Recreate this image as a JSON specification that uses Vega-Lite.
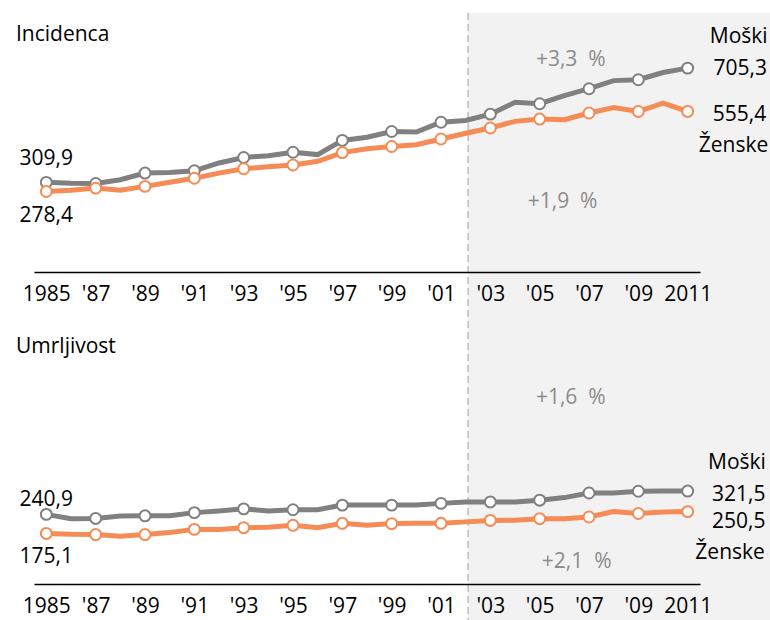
{
  "$schema": "https://vega.github.io/schema/vega-lite/v6.json",
  "background": "white",
  "padding": {"left": 15, "top": 12, "right": 0, "bottom": 0},
  "width": 666,
  "height": 571,
  "config": {"view": {"stroke": null}, "font": "Open Sans"},
  "resolve": {"scale": {"x": "independent", "y": "independent"}, "axis": {"x": "independent", "y": "independent"}},
  "layer": [
    {
      "layer": [
        {
          "data": {"values": [{"start": 2002.1, "end": 2014.5, "top": 896, "low": -1210}]},
          "mark": {"type": "rect", "color": "#F2F2F2", "clip": false},
          "encoding": {
            "x": {"field": "start", "type": "quantitative", "scale": {"domain": [1984.5, 2011.5], "nice": false, "zero": false}},
            "x2": {"field": "end"},
            "y": {"field": "top", "type": "quantitative", "scale": {"domain": [-1080, 896], "nice": false, "zero": false}, "axis": null},
            "y2": {"field": "low"}
          }
        },
        {
          "data": {"values": [{"start": 2002.1, "top": 896, "low": -1210}]},
          "mark": {"type": "rule", "color": "#BDBDBD", "strokeWidth": 1.5, "strokeDash": [7, 4]},
          "encoding": {
            "x": {"field": "start", "type": "quantitative"},
            "y": {"field": "top", "type": "quantitative"},
            "y2": {"field": "low"}
          }
        },
        {
          "data": {"values": [
            {"year": 1985, "sex": "Moški", "value": 309.9}, {"year": 1986, "sex": "Moški", "value": 307}, {"year": 1987, "sex": "Moški", "value": 306},
            {"year": 1988, "sex": "Moški", "value": 319}, {"year": 1989, "sex": "Moški", "value": 342}, {"year": 1990, "sex": "Moški", "value": 344},
            {"year": 1991, "sex": "Moški", "value": 350}, {"year": 1992, "sex": "Moški", "value": 377}, {"year": 1993, "sex": "Moški", "value": 396},
            {"year": 1994, "sex": "Moški", "value": 402}, {"year": 1995, "sex": "Moški", "value": 414}, {"year": 1996, "sex": "Moški", "value": 406},
            {"year": 1997, "sex": "Moški", "value": 455}, {"year": 1998, "sex": "Moški", "value": 466}, {"year": 1999, "sex": "Moški", "value": 486},
            {"year": 2000, "sex": "Moški", "value": 484}, {"year": 2001, "sex": "Moški", "value": 518}, {"year": 2002, "sex": "Moški", "value": 524},
            {"year": 2003, "sex": "Moški", "value": 546}, {"year": 2004, "sex": "Moški", "value": 587}, {"year": 2005, "sex": "Moški", "value": 582},
            {"year": 2006, "sex": "Moški", "value": 610}, {"year": 2007, "sex": "Moški", "value": 634}, {"year": 2008, "sex": "Moški", "value": 662},
            {"year": 2009, "sex": "Moški", "value": 665}, {"year": 2010, "sex": "Moški", "value": 690}, {"year": 2011, "sex": "Moški", "value": 705.3},
            {"year": 1985, "sex": "Ženske", "value": 278.4}, {"year": 1986, "sex": "Ženske", "value": 283}, {"year": 1987, "sex": "Ženske", "value": 290},
            {"year": 1988, "sex": "Ženske", "value": 283}, {"year": 1989, "sex": "Ženske", "value": 296}, {"year": 1990, "sex": "Ženske", "value": 310},
            {"year": 1991, "sex": "Ženske", "value": 324}, {"year": 1992, "sex": "Ženske", "value": 342}, {"year": 1993, "sex": "Ženske", "value": 357},
            {"year": 1994, "sex": "Ženske", "value": 364}, {"year": 1995, "sex": "Ženske", "value": 370}, {"year": 1996, "sex": "Ženske", "value": 383},
            {"year": 1997, "sex": "Ženske", "value": 413}, {"year": 1998, "sex": "Ženske", "value": 426}, {"year": 1999, "sex": "Ženske", "value": 434},
            {"year": 2000, "sex": "Ženske", "value": 440}, {"year": 2001, "sex": "Ženske", "value": 460}, {"year": 2002, "sex": "Ženske", "value": 480},
            {"year": 2003, "sex": "Ženske", "value": 498}, {"year": 2004, "sex": "Ženske", "value": 521}, {"year": 2005, "sex": "Ženske", "value": 529},
            {"year": 2006, "sex": "Ženske", "value": 527}, {"year": 2007, "sex": "Ženske", "value": 550}, {"year": 2008, "sex": "Ženske", "value": 569},
            {"year": 2009, "sex": "Ženske", "value": 555}, {"year": 2010, "sex": "Ženske", "value": 584}, {"year": 2011, "sex": "Ženske", "value": 555.4}
          ]},
          "mark": {"type": "line", "strokeWidth": 5},
          "encoding": {
            "x": {
              "field": "year", "type": "quantitative",
              "scale": {"domain": [1984.5, 2011.5], "nice": false, "zero": false},
              "axis": {
                "orient": "bottom", "offset": -312,
                "values": [1985, 1987, 1989, 1991, 1993, 1995, 1997, 1999, 2001, 2003, 2005, 2007, 2009, 2011],
                "format": "d",
                "labelExpr": "datum.value == 1985 || datum.value == 2011 ? datum.label : \"'\" + slice(datum.label, 2)",
                "title": null, "grid": false, "ticks": false,
                "domainColor": "black", "domainWidth": 1.5,
                "labelFontSize": 21, "labelColor": "black", "labelPadding": 11,
                "labelFlush": false, "labelOverlap": false, "zindex": 1
              }
            },
            "y": {"field": "value", "type": "quantitative"},
            "color": {"field": "sex", "type": "nominal", "scale": {"domain": ["Moški", "Ženske"], "range": ["#808080", "#F58B55"]}, "legend": null}
          }
        },
        {
          "data": {"values": [
            {"year": 1985, "sex": "Moški", "value": 309.9}, {"year": 1987, "sex": "Moški", "value": 306}, {"year": 1989, "sex": "Moški", "value": 342},
            {"year": 1991, "sex": "Moški", "value": 350}, {"year": 1993, "sex": "Moški", "value": 396}, {"year": 1995, "sex": "Moški", "value": 414},
            {"year": 1997, "sex": "Moški", "value": 455}, {"year": 1999, "sex": "Moški", "value": 486}, {"year": 2001, "sex": "Moški", "value": 518},
            {"year": 2003, "sex": "Moški", "value": 546}, {"year": 2005, "sex": "Moški", "value": 582}, {"year": 2007, "sex": "Moški", "value": 634},
            {"year": 2009, "sex": "Moški", "value": 665}, {"year": 2011, "sex": "Moški", "value": 705.3},
            {"year": 1985, "sex": "Ženske", "value": 278.4}, {"year": 1987, "sex": "Ženske", "value": 290}, {"year": 1989, "sex": "Ženske", "value": 296},
            {"year": 1991, "sex": "Ženske", "value": 324}, {"year": 1993, "sex": "Ženske", "value": 357}, {"year": 1995, "sex": "Ženske", "value": 370},
            {"year": 1997, "sex": "Ženske", "value": 413}, {"year": 1999, "sex": "Ženske", "value": 434}, {"year": 2001, "sex": "Ženske", "value": 460},
            {"year": 2003, "sex": "Ženske", "value": 498}, {"year": 2005, "sex": "Ženske", "value": 529}, {"year": 2007, "sex": "Ženske", "value": 550},
            {"year": 2009, "sex": "Ženske", "value": 555}, {"year": 2011, "sex": "Ženske", "value": 555.4}
          ]},
          "mark": {"type": "point", "filled": false, "fill": "white", "fillOpacity": 1, "opacity": 1, "strokeWidth": 2, "size": 120},
          "encoding": {
            "x": {"field": "year", "type": "quantitative"},
            "y": {"field": "value", "type": "quantitative"},
            "color": {"field": "sex", "type": "nominal", "legend": null}
          }
        },
        {
          "data": {"values": [
            {"year": 1985, "value": 371, "label": "309,9"},
            {"year": 1985, "value": 173, "label": "278,4"},
            {"year": 2013.07, "value": 792, "label": "Moški"},
            {"year": 2013.13, "value": 682, "label": "705,3"},
            {"year": 2013.1, "value": 521, "label": "555,4"},
            {"year": 2012.86, "value": 415, "label": "Ženske"}
          ]},
          "mark": {"type": "text", "fontSize": 21, "color": "black", "align": "center", "baseline": "alphabetic"},
          "encoding": {
            "x": {"field": "year", "type": "quantitative"},
            "y": {"field": "value", "type": "quantitative"},
            "text": {"field": "label", "type": "nominal"}
          }
        },
        {
          "data": {"values": [
            {"year": 2006.26, "value": 711, "label": "+3,3\u00a0\u00a0%"},
            {"year": 2005.93, "value": 220, "label": "+1,9\u00a0\u00a0%"}
          ]},
          "mark": {"type": "text", "fontSize": 21, "color": "#8C8C8C", "align": "center", "baseline": "alphabetic"},
          "encoding": {
            "x": {"field": "year", "type": "quantitative"},
            "y": {"field": "value", "type": "quantitative"},
            "text": {"field": "label", "type": "nominal"}
          }
        },
        {
          "data": {"values": [{"year": 1983.77, "value": 798, "label": "Incidenca"}]},
          "mark": {"type": "text", "fontSize": 21, "color": "black", "align": "left", "baseline": "alphabetic"},
          "encoding": {
            "x": {"field": "year", "type": "quantitative"},
            "y": {"field": "value", "type": "quantitative"},
            "text": {"field": "label", "type": "nominal"}
          }
        }
      ]
    },
    {
      "layer": [
        {
          "data": {"values": [
            {"year": 1985, "sex": "Moški", "value": 240.9}, {"year": 1986, "sex": "Moški", "value": 226}, {"year": 1987, "sex": "Moški", "value": 227},
            {"year": 1988, "sex": "Moški", "value": 235}, {"year": 1989, "sex": "Moški", "value": 236}, {"year": 1990, "sex": "Moški", "value": 236},
            {"year": 1991, "sex": "Moški", "value": 247}, {"year": 1992, "sex": "Moški", "value": 253}, {"year": 1993, "sex": "Moški", "value": 260},
            {"year": 1994, "sex": "Moški", "value": 253}, {"year": 1995, "sex": "Moški", "value": 257}, {"year": 1996, "sex": "Moški", "value": 257},
            {"year": 1997, "sex": "Moški", "value": 273}, {"year": 1998, "sex": "Moški", "value": 273}, {"year": 1999, "sex": "Moški", "value": 273},
            {"year": 2000, "sex": "Moški", "value": 273}, {"year": 2001, "sex": "Moški", "value": 279}, {"year": 2002, "sex": "Moški", "value": 284},
            {"year": 2003, "sex": "Moški", "value": 284}, {"year": 2004, "sex": "Moški", "value": 284}, {"year": 2005, "sex": "Moški", "value": 290},
            {"year": 2006, "sex": "Moški", "value": 299}, {"year": 2007, "sex": "Moški", "value": 315}, {"year": 2008, "sex": "Moški", "value": 315},
            {"year": 2009, "sex": "Moški", "value": 321}, {"year": 2010, "sex": "Moški", "value": 321.5}, {"year": 2011, "sex": "Moški", "value": 321.5},
            {"year": 1985, "sex": "Ženske", "value": 175.1}, {"year": 1986, "sex": "Ženske", "value": 172}, {"year": 1987, "sex": "Ženske", "value": 171},
            {"year": 1988, "sex": "Ženske", "value": 165}, {"year": 1989, "sex": "Ženske", "value": 171}, {"year": 1990, "sex": "Ženske", "value": 178},
            {"year": 1991, "sex": "Ženske", "value": 189}, {"year": 1992, "sex": "Ženske", "value": 189}, {"year": 1993, "sex": "Ženske", "value": 195},
            {"year": 1994, "sex": "Ženske", "value": 196}, {"year": 1995, "sex": "Ženske", "value": 203}, {"year": 1996, "sex": "Ženske", "value": 195},
            {"year": 1997, "sex": "Ženske", "value": 210}, {"year": 1998, "sex": "Ženske", "value": 203}, {"year": 1999, "sex": "Ženske", "value": 209},
            {"year": 2000, "sex": "Ženske", "value": 210}, {"year": 2001, "sex": "Ženske", "value": 210}, {"year": 2002, "sex": "Ženske", "value": 215},
            {"year": 2003, "sex": "Ženske", "value": 220}, {"year": 2004, "sex": "Ženske", "value": 221}, {"year": 2005, "sex": "Ženske", "value": 226},
            {"year": 2006, "sex": "Ženske", "value": 226}, {"year": 2007, "sex": "Ženske", "value": 232}, {"year": 2008, "sex": "Ženske", "value": 251},
            {"year": 2009, "sex": "Ženske", "value": 244}, {"year": 2010, "sex": "Ženske", "value": 249}, {"year": 2011, "sex": "Ženske", "value": 250.5}
          ]},
          "mark": {"type": "line", "strokeWidth": 5},
          "encoding": {
            "x": {
              "field": "year", "type": "quantitative",
              "scale": {"domain": [1984.5, 2011.5], "nice": false, "zero": false},
              "axis": {
                "orient": "bottom",
                "values": [1985, 1987, 1989, 1991, 1993, 1995, 1997, 1999, 2001, 2003, 2005, 2007, 2009, 2011],
                "format": "d",
                "labelExpr": "datum.value == 1985 || datum.value == 2011 ? datum.label : \"'\" + slice(datum.label, 2)",
                "title": null, "grid": false, "ticks": false,
                "domainColor": "black", "domainWidth": 1.5,
                "labelFontSize": 21, "labelColor": "black", "labelPadding": 11,
                "labelFlush": false, "labelOverlap": false, "zindex": 1
              }
            },
            "y": {"field": "value", "type": "quantitative", "scale": {"domain": [0, 1976], "nice": false, "zero": false}, "axis": null},
            "color": {"field": "sex", "type": "nominal", "scale": {"domain": ["Moški", "Ženske"], "range": ["#808080", "#F58B55"]}, "legend": null}
          }
        },
        {
          "data": {"values": [
            {"year": 1985, "sex": "Moški", "value": 240.9}, {"year": 1987, "sex": "Moški", "value": 227}, {"year": 1989, "sex": "Moški", "value": 236},
            {"year": 1991, "sex": "Moški", "value": 247}, {"year": 1993, "sex": "Moški", "value": 260}, {"year": 1995, "sex": "Moški", "value": 257},
            {"year": 1997, "sex": "Moški", "value": 273}, {"year": 1999, "sex": "Moški", "value": 273}, {"year": 2001, "sex": "Moški", "value": 279},
            {"year": 2003, "sex": "Moški", "value": 284}, {"year": 2005, "sex": "Moški", "value": 290}, {"year": 2007, "sex": "Moški", "value": 315},
            {"year": 2009, "sex": "Moški", "value": 321}, {"year": 2011, "sex": "Moški", "value": 321.5},
            {"year": 1985, "sex": "Ženske", "value": 175.1}, {"year": 1987, "sex": "Ženske", "value": 171}, {"year": 1989, "sex": "Ženske", "value": 171},
            {"year": 1991, "sex": "Ženske", "value": 189}, {"year": 1993, "sex": "Ženske", "value": 195}, {"year": 1995, "sex": "Ženske", "value": 203},
            {"year": 1997, "sex": "Ženske", "value": 210}, {"year": 1999, "sex": "Ženske", "value": 209}, {"year": 2001, "sex": "Ženske", "value": 210},
            {"year": 2003, "sex": "Ženske", "value": 220}, {"year": 2005, "sex": "Ženske", "value": 226}, {"year": 2007, "sex": "Ženske", "value": 232},
            {"year": 2009, "sex": "Ženske", "value": 244}, {"year": 2011, "sex": "Ženske", "value": 250.5}
          ]},
          "mark": {"type": "point", "filled": false, "fill": "white", "fillOpacity": 1, "opacity": 1, "strokeWidth": 2, "size": 120},
          "encoding": {
            "x": {"field": "year", "type": "quantitative"},
            "y": {"field": "value", "type": "quantitative"},
            "color": {"field": "sex", "type": "nominal", "legend": null}
          }
        },
        {
          "data": {"values": [
            {"year": 1985, "value": 270, "label": "240,9"},
            {"year": 1985, "value": 74, "label": "175,1"},
            {"year": 2013.0, "value": 398, "label": "Moški"},
            {"year": 2013.07, "value": 287, "label": "321,5"},
            {"year": 2013.07, "value": 195, "label": "250,5"},
            {"year": 2012.72, "value": 86, "label": "Ženske"}
          ]},
          "mark": {"type": "text", "fontSize": 21, "color": "black", "align": "center", "baseline": "alphabetic"},
          "encoding": {
            "x": {"field": "year", "type": "quantitative"},
            "y": {"field": "value", "type": "quantitative"},
            "text": {"field": "label", "type": "nominal"}
          }
        },
        {
          "data": {"values": [
            {"year": 2006.26, "value": 623, "label": "+1,6\u00a0\u00a0%"},
            {"year": 2006.5, "value": 57, "label": "+2,1\u00a0\u00a0%"}
          ]},
          "mark": {"type": "text", "fontSize": 21, "color": "#8C8C8C", "align": "center", "baseline": "alphabetic"},
          "encoding": {
            "x": {"field": "year", "type": "quantitative"},
            "y": {"field": "value", "type": "quantitative"},
            "text": {"field": "label", "type": "nominal"}
          }
        },
        {
          "data": {"values": [{"year": 1983.77, "value": 799, "label": "Umrljivost"}]},
          "mark": {"type": "text", "fontSize": 21, "color": "black", "align": "left", "baseline": "alphabetic"},
          "encoding": {
            "x": {"field": "year", "type": "quantitative"},
            "y": {"field": "value", "type": "quantitative"},
            "text": {"field": "label", "type": "nominal"}
          }
        }
      ]
    }
  ]
}
